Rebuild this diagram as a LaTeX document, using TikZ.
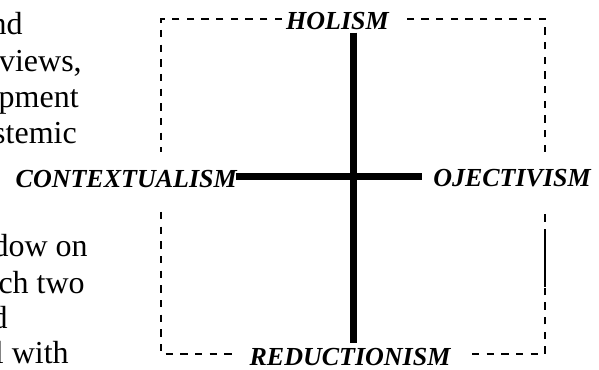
\documentclass[tikz,border=0pt]{standalone}
\usepackage{fontspec}
\setmainfont{Liberation Serif}
\usepackage{tikz}
\usetikzlibrary{calc}

\tikzset{
    axislabel/.style={inner sep=0pt, font=\fontsize{19.5}{23}\selectfont\bfseries\itshape},
    bodytext/.style={inner sep=0pt, anchor=base east, font=\fontsize{24}{29}\selectfont},
    bar/.style={line width=5.25pt},
    frame/.style={line width=1.1pt, dash pattern=on 5.5pt off 5.5pt}
}

\begin{document}
\begin{tikzpicture}[x=0.75pt, y=-0.75pt]
    \useasboundingbox (0,0) rectangle (599,370);

    % Surrounding text
    \node[bodytext] (t1) at (23,35) {nd};
    \node[bodytext] (t2) at (82,72) {views,};
    \node[bodytext] (t3) at (79,108) {pment};
    \node[bodytext] (t4) at (77,144) {stemic};
    \node[bodytext] (t5) at (88,257) {dow on};
    \node[bodytext] (t6) at (85,293) {ch two};
    \node[bodytext] (t7) at (8,328) {d};
    \node[bodytext] (t8) at (69,363) {l with};

    % Frame
    \draw[frame] (282,19) -- (161,19) -- (161,152);
    \draw[frame] (161,212) -- (161,354) -- (233,354);
    \draw[frame] (472,354) -- (545,354) -- (545,212);
    \draw[frame] (545,152) -- (545,19) -- (400,19);
    \draw[line width=1.1pt] (545,233) -- (545,287);

    % Labels
    \node[axislabel, anchor=base] (holism) at (337.5,30) {HOLISM};
    \node[axislabel, anchor=base] (reduct) at (350,365) {REDUCTIONISM};
    \node[axislabel, anchor=base east] (context) at (237,188) {CONTEXTUALISM};
    \node[axislabel, anchor=base west] (object) at (433,187) {OJECTIVISM};

    % Cross
    \coordinate (cross) at (353.5,177);
    \draw[bar, shorten <=1.5pt, shorten >=3.75pt] (cross |- holism.south) -- (cross |- reduct.north);
    \draw[bar, shorten <=-0.75pt, shorten >=8pt] (context.east |- cross) -- (object.west |- cross);
\end{tikzpicture}
\end{document}
